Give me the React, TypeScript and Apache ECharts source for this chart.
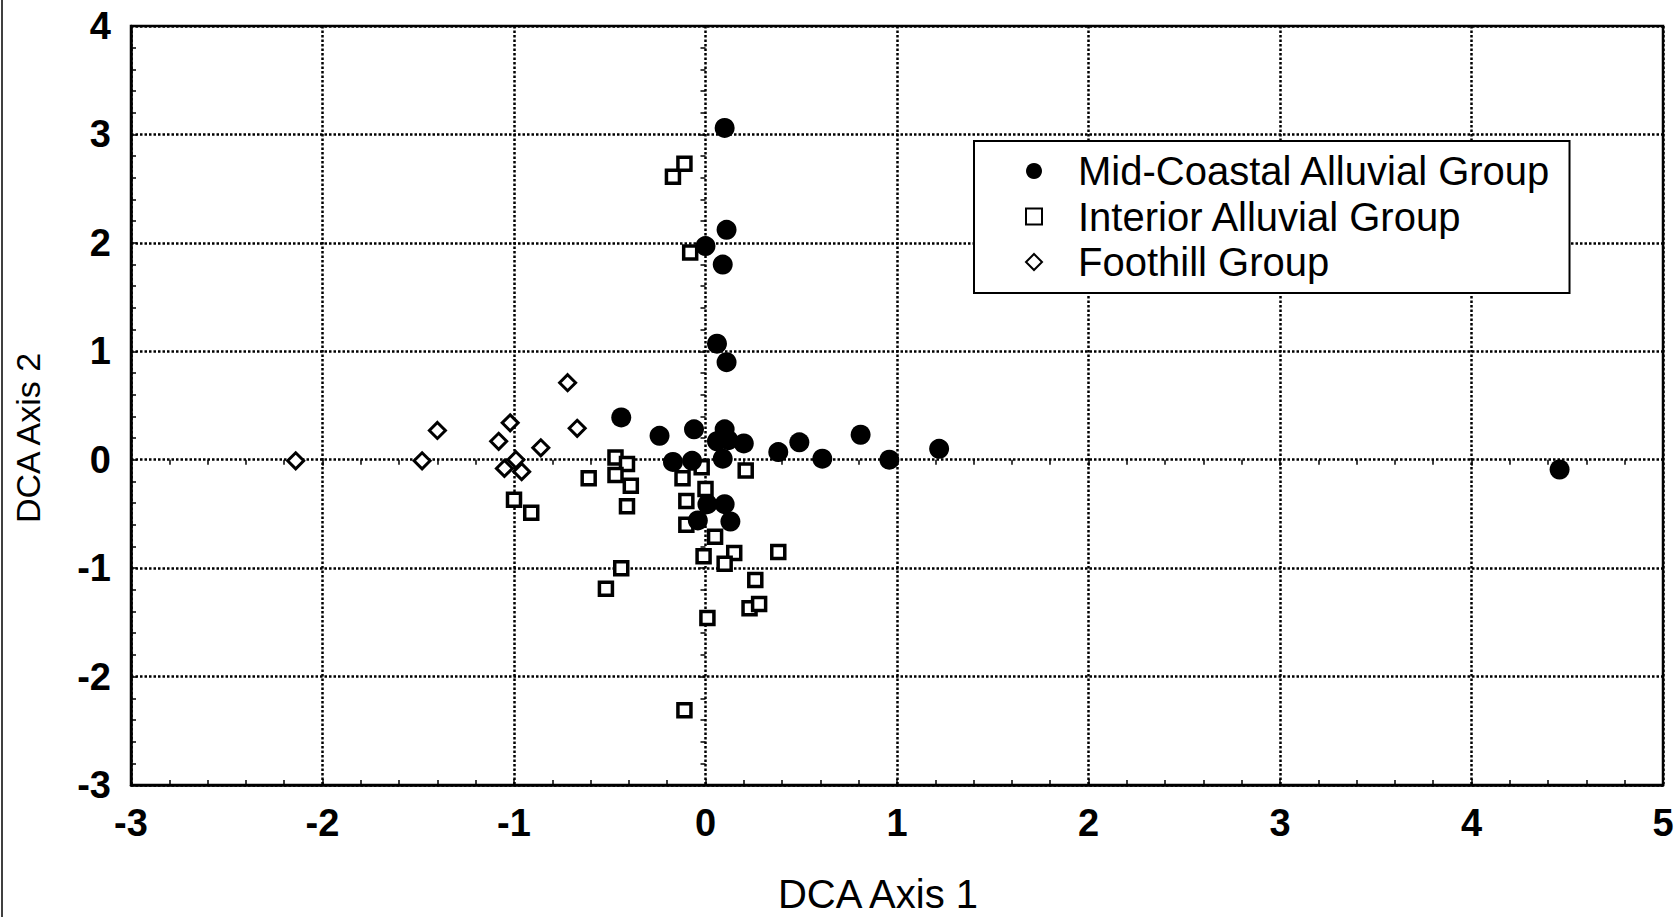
import React, { useEffect, useRef } from "react";
import * as echarts from "echarts";

const seriesNames = ["Mid-Coastal Alluvial Group", "Interior Alluvial Group", "Foothill Group"];

const midCoastal: [number, number][] = [
  [0.10, 3.06], [0.11, 2.12], [0.00, 1.97], [0.09, 1.80], [0.06, 1.07], [0.11, 0.90],
  [-0.44, 0.39], [-0.24, 0.22], [-0.06, 0.28], [0.10, 0.28], [0.06, 0.17], [0.12, 0.18],
  [0.20, 0.15], [-0.17, -0.02], [-0.07, -0.01], [0.09, 0.01], [0.38, 0.07], [0.49, 0.16],
  [0.61, 0.01], [0.81, 0.23], [0.96, 0.0], [1.22, 0.10], [4.46, -0.09], [0.01, -0.41],
  [0.10, -0.41], [-0.04, -0.56], [0.13, -0.57],
];

const interior: [number, number][] = [
  [-0.17, 2.61], [-0.11, 2.73], [-0.08, 1.91], [-0.47, 0.02], [-0.41, -0.04], [-0.61, -0.17],
  [-0.47, -0.14], [-0.39, -0.24], [-0.41, -0.43], [-1.0, -0.37], [-0.91, -0.49], [-0.02, -0.07],
  [-0.12, -0.17], [0.0, -0.27], [0.21, -0.10], [-0.10, -0.38], [-0.10, -0.60], [0.05, -0.71],
  [-0.01, -0.89], [0.15, -0.86], [0.10, -0.96], [0.38, -0.85], [-0.44, -1.0], [-0.52, -1.19],
  [0.26, -1.11], [0.23, -1.37], [0.28, -1.33], [0.01, -1.46], [-0.11, -2.31],
];

const foothill: [number, number][] = [
  [-2.14, -0.01], [-1.48, -0.01], [-1.40, 0.27], [-1.08, 0.17], [-1.02, 0.34], [-0.86, 0.11],
  [-0.72, 0.71], [-0.67, 0.29], [-0.99, 0.0], [-1.05, -0.08], [-0.96, -0.11],
];

const xMin = -3, xMax = 5, yMin = -3, yMax = 4, step = 1;
const xTitle = "DCA Axis 1";
const yTitle = "DCA Axis 2";

const FONT = "'Liberation Sans', Arial, sans-serif";

export default function App() {
  const ref = useRef<HTMLDivElement>(null);
  useEffect(() => {
    if (!ref.current) return;
    const chart = echarts.init(ref.current, undefined, { renderer: "svg" });
    const gridLine = { show: true, lineStyle: { color: "#000", width: 2.5, type: [2.5, 2] as any } };
    const minor = { show: true, splitNumber: 5, length: 5, lineStyle: { color: "#000", width: 1.5 } };
    const tick = { show: true, inside: true, length: 6, lineStyle: { color: "#000", width: 1.5 } };
    const labelStyle = { color: "#000", fontSize: 38, fontWeight: "bold" as any, fontFamily: FONT };
    chart.setOption({
      animation: false,
      backgroundColor: "#fff",
      grid: { left: 131, right: 17, top: 26, bottom: 132, show: true, borderColor: "#000", borderWidth: 2.5 },
      xAxis: [
        {
          type: "value", min: xMin, max: xMax, interval: step, position: "bottom",
          axisLine: { show: true, onZero: false, lineStyle: { color: "#000", width: 2.5 } },
          axisTick: tick, minorTick: minor, splitLine: gridLine,
          axisLabel: { ...labelStyle, margin: 19 },
        },
        {
          type: "value", min: xMin, max: xMax, interval: step, position: "top",
          axisLine: { show: false }, axisTick: tick, minorTick: minor,
          splitLine: { show: false }, axisLabel: { show: false },
        },
      ],
      yAxis: [
        {
          type: "value", min: yMin, max: yMax, interval: step, position: "left",
          axisLine: { show: true, onZero: false, lineStyle: { color: "#000", width: 2.5 } },
          axisTick: tick, minorTick: minor, splitLine: gridLine,
          axisLabel: { ...labelStyle, margin: 20 },
        },
        {
          type: "value", min: yMin, max: yMax, interval: step, position: "right",
          axisLine: { show: false }, axisTick: tick, minorTick: minor,
          splitLine: { show: false }, axisLabel: { show: false },
        },
      ],
      legend: {
        data: seriesNames,
        orient: "vertical",
        left: 974,
        top: 141,
        padding: [9, 18, 10, 51],
        itemGap: 3.5,
        itemWidth: 16,
        itemHeight: 16,
        backgroundColor: "#fff",
        borderColor: "#000",
        borderWidth: 2,
        borderRadius: 0,
        textStyle: { color: "#000", fontSize: 40, fontFamily: FONT, lineHeight: 42, padding: [0, 0, 0, 31] },
      },
      graphic: [
        {
          type: "text", x: 878, y: 894,
          style: { text: xTitle, fill: "#000", font: `40px ${FONT}`, align: "center", verticalAlign: "middle" },
        },
        {
          type: "text", x: 28, y: 438, rotation: Math.PI / 2,
          style: { text: yTitle, fill: "#000", font: `34px ${FONT}`, align: "center", verticalAlign: "middle" },
        },
        { type: "line", shape: { x1: 2, y1: 0, x2: 2, y2: 917 }, style: { stroke: "#000", lineWidth: 1.5 } },
      ],
      series: [
        {
          name: seriesNames[1], type: "scatter", data: interior, symbol: "rect", symbolSize: 13,
          itemStyle: { color: "#fff", borderColor: "#000", borderWidth: 3.5, opacity: 1 },
        },
        {
          name: seriesNames[2], type: "scatter", data: foothill, symbol: "diamond", symbolSize: 16,
          itemStyle: { color: "#fff", borderColor: "#000", borderWidth: 3, opacity: 1 },
        },
        {
          name: seriesNames[0], type: "scatter", data: midCoastal, symbol: "circle", symbolSize: 20,
          itemStyle: { color: "#000", opacity: 1 },
        },
      ],
    });
    return () => chart.dispose();
  }, []);
  return (
    <div
      ref={ref}
      style={{ position: "fixed", left: 0, top: 0, width: 1680, height: 917, background: "#fff" }}
    />
  );
}
